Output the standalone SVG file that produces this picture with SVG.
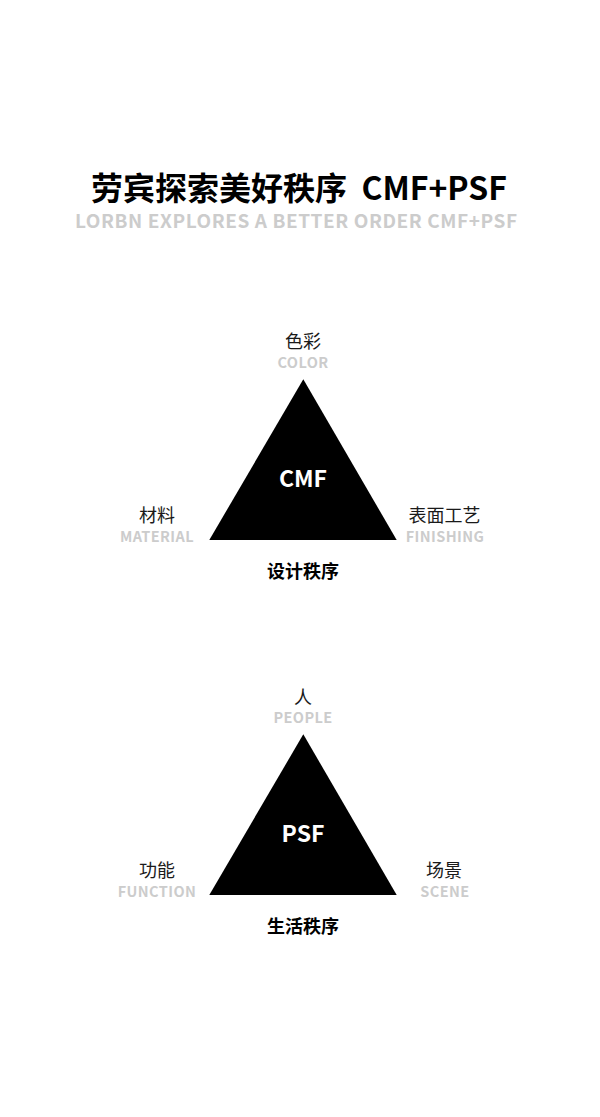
<svg xmlns="http://www.w3.org/2000/svg" width="600" height="1117" viewBox="0 0 600 1117">
<style>
text{font-family:"Noto Sans CJK SC","Noto Sans",sans-serif;text-anchor:middle}
.title{font-size:32px;font-weight:700;fill:#000}
.sub{font-size:19px;font-weight:700;fill:#cccccc}
.cn{font-size:18px;font-weight:400;fill:#1a1a1a}
.en{font-size:14.5px;font-weight:700;fill:#cccccc;letter-spacing:0.4px}
.core{font-size:23px;font-weight:700;fill:#fff}
.cap{font-size:18px;font-weight:700;fill:#000}
.tri{fill:#000}
</style>
<rect width="600" height="1117" fill="#fff"/>
<g id="header">
<text class="title" x="299" y="200" xml:space="preserve">劳宾探索美好秩序  CMF+PSF</text>
<text class="sub" x="296" y="228" textLength="442" lengthAdjust="spacing">LORBN EXPLORES A BETTER ORDER CMF+PSF</text>
</g>
<g id="connectors"></g>
<g id="cmf">
<polygon class="tri" points="303.3,379.3 396.7,540 209.3,540"/>
<text class="core" x="303" y="486.5">CMF</text>
</g>
<g id="color">
<text class="cn" x="303" y="348">色彩</text>
<text class="en" x="303" y="367.5">COLOR</text>
</g>
<g id="material">
<text class="cn" x="157" y="521.5">材料</text>
<text class="en" x="157" y="542">MATERIAL</text>
</g>
<g id="finishing">
<text class="cn" x="444.5" y="521.5">表面工艺</text>
<text class="en" x="445" y="542">FINISHING</text>
</g>
<g id="cmf-caption">
<text class="cap" x="303" y="578">设计秩序</text>
</g>
<g id="psf">
<polygon class="tri" points="303.3,734.3 396.7,895 209.3,895"/>
<text class="core" x="303" y="841.5">PSF</text>
</g>
<g id="people">
<text class="cn" x="303" y="703.5">人</text>
<text class="en" x="303" y="722.5">PEOPLE</text>
</g>
<g id="function">
<text class="cn" x="157" y="876.5">功能</text>
<text class="en" x="157" y="897">FUNCTION</text>
</g>
<g id="scene">
<text class="cn" x="444" y="876.5">场景</text>
<text class="en" x="445" y="897">SCENE</text>
</g>
<g id="psf-caption">
<text class="cap" x="303" y="933">生活秩序</text>
</g>
</svg>
